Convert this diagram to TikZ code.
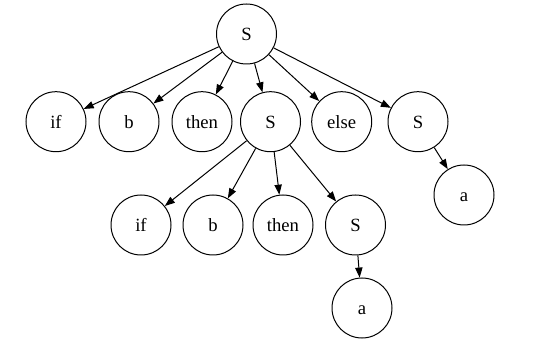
\documentclass[tikz,border=0pt]{standalone}
\usepackage{fontspec}
\setmainfont{Liberation Serif}
\usetikzlibrary{arrows.meta}

\tikzset{
  sym/.style={draw,circle,minimum size=45pt,inner sep=0pt,text height=10pt,text depth=0pt,font=\fontsize{14pt}{16pt}\selectfont},
}

\begin{document}
\begin{tikzpicture}[x=0.75pt,y=-0.75pt,line width=0.75pt,>={Triangle[length=7.5pt,width=5.5pt]}]
  \useasboundingbox (0,0) rectangle (554,349);
  \node[sym] (root) at (246.5,34) {S};

  \node[sym] (if1)   at (56,121.7)  {if};
  \node[sym] (b1)    at (129,121.7) {b};
  \node[sym] (then1) at (202,121.7) {then};
  \node[sym] (s1)    at (270.5,121.7) {S};
  \node[sym] (else1) at (341.7,121.7) {else};
  \node[sym] (s2)    at (418,121.7) {S};

  \node[sym] (if2)   at (141,225) {if};
  \node[sym] (b2)    at (213,225) {b};
  \node[sym] (then2) at (283,225) {then};
  \node[sym] (s3)    at (355.5,225) {S};
  \node[sym] (a2)    at (464,195) {a};

  \node[sym] (a3)    at (362,308) {a};

  \foreach \n in {if1,b1,then1,s1,else1,s2}
    \draw[->] (root) -- (\n);
  \foreach \n in {if2,b2,then2,s3}
    \draw[->] (s1) -- (\n);
  \draw[->] (s2) -- (a2);
  \draw[->] (s3) -- (a3);
\end{tikzpicture}
\end{document}
